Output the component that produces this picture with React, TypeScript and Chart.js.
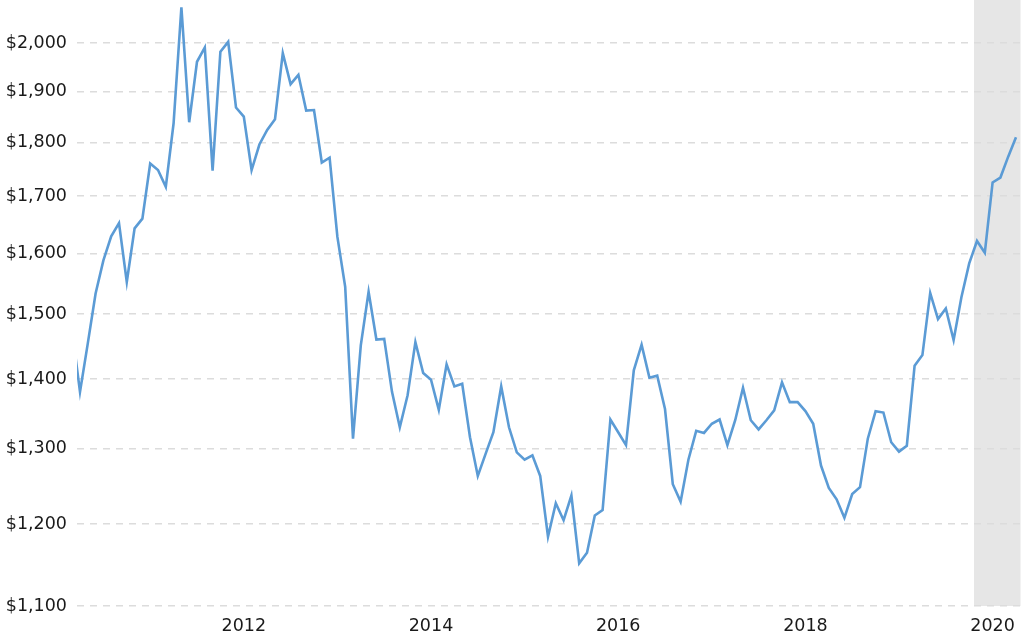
import React, { useEffect, useRef } from "react";
import { Chart, registerables } from "chart.js";

Chart.register(...registerables);

// Monthly values, first month = March 2010 (partly outside the visible range)
const START_YEAR = 2010;
const START_MONTH = 2; // 0-based month index of first value (March)
const PRICES = [
  1473,
  1381, 1454, 1533, 1588, 1629, 1652, 1552, 1643, 1660, 1760, 1748, 1717,
  1837, 2078, 1839, 1961, 1991, 1747, 1982, 2003, 1868, 1850, 1748, 1796,
  1824, 1845, 1979, 1915, 1934, 1862, 1863, 1762, 1771, 1628, 1544, 1314,
  1451, 1536, 1460, 1461, 1381, 1330, 1376, 1456, 1409, 1399, 1355, 1422,
  1389, 1393, 1316, 1263, 1293, 1323, 1389, 1330, 1295, 1285, 1291, 1263,
  1184, 1227, 1205, 1237, 1151, 1164, 1211, 1218, 1341, 1323, 1305, 1413,
  1452, 1402, 1405, 1356, 1252, 1229, 1285, 1325, 1322, 1335, 1341, 1305,
  1340, 1387, 1340, 1327, 1340, 1354, 1395, 1366, 1366, 1353, 1335, 1277,
  1247, 1232, 1208, 1239, 1248, 1314, 1353, 1351, 1309, 1296, 1304, 1420,
  1436, 1534, 1492, 1509, 1459, 1527, 1583, 1621, 1601, 1725, 1734, 1773,
  1810,
];
const YEAR_TICKS = [2012, 2014, 2016, 2018, 2020];
const PRICE_TICKS = [1100, 1200, 1300, 1400, 1500, 1600, 1700, 1800, 1900, 2000];
const X_MIN = 2010.218;
const X_MAX = 2020.298;
const Y_MIN = 1100;
const Y_MAX = 2094;
const SHADE_START = 2019.801;

const shadePlugin = {
  id: "shade",
  beforeDraw(chart: any) {
    const { ctx, chartArea, scales } = chart;
    const x0 = scales.x.getPixelForValue(SHADE_START);
    ctx.save();
    ctx.fillStyle = "#e6e6e6";
    ctx.fillRect(x0, chartArea.top, chartArea.right - x0, chartArea.bottom - chartArea.top);
    ctx.restore();
  },
};

export default function App() {
  const ref = useRef<HTMLCanvasElement>(null);
  useEffect(() => {
    const points = PRICES.map((v, i) => ({
      x: START_YEAR + (START_MONTH + i) / 12,
      y: v,
    }));
    const chart = new Chart(ref.current!, {
      type: "line",
      data: {
        datasets: [
          {
            data: points,
            borderColor: "#5b9bd5",
            borderWidth: 2.6,
            pointRadius: 0,
            tension: 0,
            fill: false,
            clip: 0,
          } as any,
        ],
      },
      options: {
        animation: false,
        responsive: false,
        devicePixelRatio: 1,
        layout: { padding: { left: 0, right: 3.5, top: 0, bottom: 0 } },
        plugins: { legend: { display: false }, tooltip: { enabled: false } },
        scales: {
          x: {
            type: "linear",
            min: X_MIN,
            max: X_MAX,
            grid: { display: false, drawTicks: false },
            border: { display: false },
            afterBuildTicks: (s: any) => {
              s.ticks = YEAR_TICKS.map((v) => ({ value: v }));
            },
            afterFit: (s: any) => {
              s.height = 31;
              s.paddingLeft = 0;
              s.paddingRight = 0;
            },
            ticks: {
              padding: 10,
              maxRotation: 0,
              autoSkip: false,
              color: "#1a1a1a",
              font: { family: "DejaVu Sans", size: 17.5 },
              callback: (v: any) => String(v),
            },
          },
          y: {
            type: "logarithmic",
            min: Y_MIN,
            max: Y_MAX,
            grid: { color: "#dcdcdc", lineWidth: 1.5, drawTicks: false },
            border: { display: false, dash: [7, 6] },
            afterBuildTicks: (s: any) => {
              s.ticks = PRICE_TICKS.map((v) => ({ value: v }));
            },
            afterFit: (s: any) => {
              s.width = 77;
              s.paddingTop = 0;
              s.paddingBottom = 0;
            },
            ticks: {
              padding: 10,
              autoSkip: false,
              color: "#1a1a1a",
              font: { family: "DejaVu Sans", size: 17.5 },
              callback: (v: any) => "$" + Number(v).toLocaleString("en-US"),
            },
          },
        },
      },
      plugins: [shadePlugin],
    });
    return () => chart.destroy();
  }, []);
  return (
    <div style={{ position: "absolute", left: 0, top: 0, width: 1024, height: 637, background: "#fff" }}>
      <canvas ref={ref} width={1024} height={637} />
    </div>
  );
}
